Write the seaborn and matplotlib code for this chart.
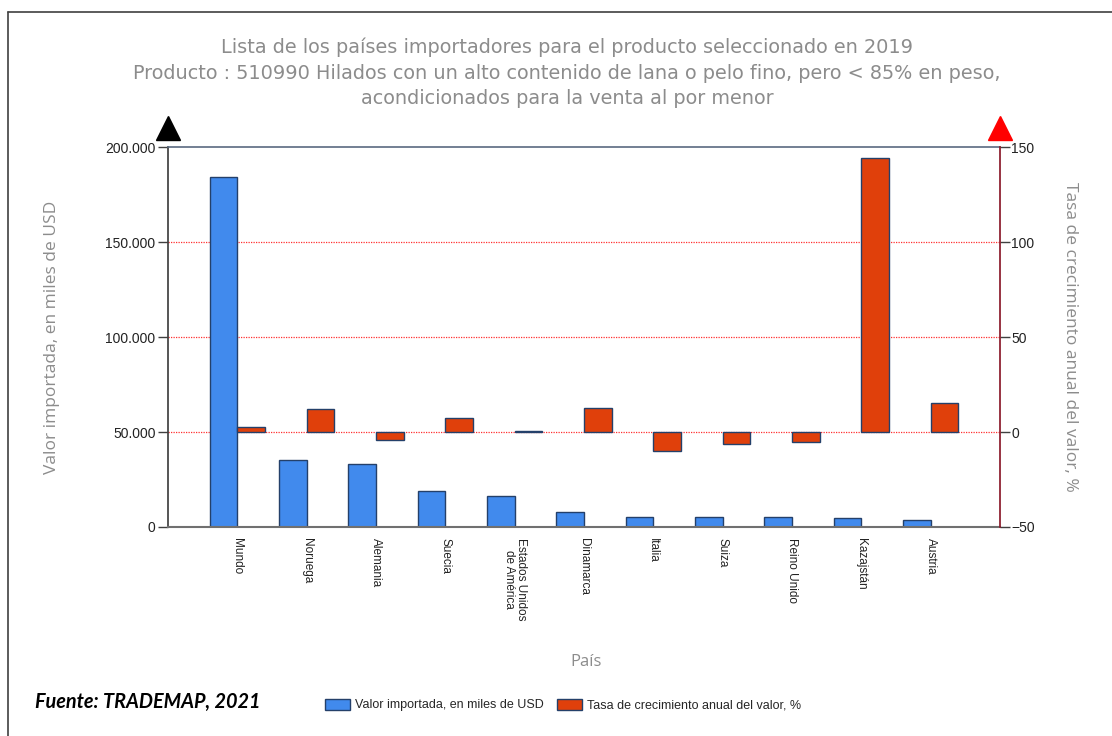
import matplotlib
matplotlib.use("Agg")
import matplotlib.pyplot as plt
import matplotlib.ticker as mticker
from matplotlib.patches import Patch
from matplotlib.lines import Line2D
import pandas as pd
import seaborn as sns

# Data
paises = ["Mundo", "Noruega", "Alemania", "Suecia", "Estados Unidos\nde América",
          "Dinamarca", "Italia", "Suiza", "Reino Unido", "Kazajstán", "Austria"]
valor_importado = [184200, 35400, 33000, 18900, 16300, 7900, 5400, 5400, 5400, 4900, 3500]
tasa_crecimiento = [2.5, 12, -4, 7.5, 0.6, 12.6, -10, -6.5, -5, 144, 15.4]

serie_valor = "Valor importada, en miles de USD"
serie_tasa = "Tasa de crecimiento anual del valor, %"
color_valor = "#418aed"
color_tasa = "#e0400b"

titulo = ("Lista de los países importadores para el producto seleccionado en 2019\n"
          "Producto : 510990 Hilados con un alto contenido de lana o pelo fino, pero < 85% en peso,\n"
          "acondicionados para la venta al por menor")

sns.set_theme(style="white")
plt.rcParams['font.family'] = ['Liberation Sans', 'DejaVu Sans']

df_valor = pd.DataFrame({"pais": paises, "valor": valor_importado, "serie": serie_valor})
df_tasa = pd.DataFrame({"pais": paises, "valor": tasa_crecimiento, "serie": serie_tasa})
hue_order = [serie_valor, serie_tasa]
palette = {serie_valor: color_valor, serie_tasa: color_tasa}

fig = plt.figure(figsize=(11.12, 7.36), dpi=100)
ax = fig.add_axes([168 / 1112, 1 - 527 / 736, 832 / 1112, 380 / 736])
ax2 = ax.twinx()

# blue bars on the left axis, red bars on the right one; hue_order keeps them side by side
sns.barplot(data=df_valor, x="pais", y="valor", hue="serie", hue_order=hue_order,
            palette=palette, order=paises, width=0.8, dodge=True, legend=False,
            saturation=1, edgecolor="#24406a", linewidth=1, ax=ax)
sns.barplot(data=df_tasa, x="pais", y="valor", hue="serie", hue_order=hue_order,
            palette=palette, order=paises, width=0.8, dodge=True, legend=False,
            saturation=1, edgecolor="#24406a", linewidth=1, ax=ax2)

ax.set_xlim(-1, 11)
ax2.set_xlim(-1, 11)
ax.set_ylim(0, 200000)
ax2.set_ylim(-50, 150)
ax.set_yticks([0, 50000, 100000, 150000, 200000])
ax2.set_yticks([-50, 0, 50, 100, 150])
ax.yaxis.set_major_formatter(mticker.FuncFormatter(lambda v, p: f"{int(v):,}".replace(",", ".")))

# red dotted gridlines
for v in [50000, 100000, 150000]:
    ax.axhline(v, color="#ff3030", lw=0.9, ls=(0, (1, 1)), zorder=0)

for a in (ax, ax2):
    a.set_xlabel("")
    a.set_ylabel("")
    a.grid(False)
    a.set_facecolor("none")
    for s in a.spines.values():
        s.set_visible(False)

ax.spines["left"].set_visible(True)
ax.spines["left"].set_color("#404040")
ax.spines["bottom"].set_visible(True)
ax.spines["bottom"].set_color("#707070")
ax.spines["bottom"].set_linewidth(1.5)
ax.spines["top"].set_visible(True)
ax.spines["top"].set_color("#5a6a80")
ax.spines["top"].set_linewidth(1.2)
ax2.spines["right"].set_visible(True)
ax2.spines["right"].set_color("#8b1a2a")

ax.tick_params(axis="y", left=True, length=7, width=1, color="#404040",
               labelsize=10, labelcolor="#222222", pad=2)
ax2.tick_params(axis="y", right=True, length=7, width=1, color="#404040",
                labelsize=10, labelcolor="#222222", pad=1)
ax.tick_params(axis="x", bottom=False, labelsize=8.5, labelcolor="#222222", pad=2)
ax2.tick_params(axis="x", bottom=False, labelbottom=False)
ax.set_xticks(range(len(paises)))
ax.set_xticklabels(paises, rotation=270, va="top", ha="center", linespacing=1.0)

# arrow heads on the two value axes
ax.plot([0], [1.05], transform=ax.transAxes, marker="^", color="black",
        markersize=17, clip_on=False)
ax2.plot([1], [1.05], transform=ax2.transAxes, marker="^", color="#ff0000",
         markersize=17, clip_on=False)

gris = "#8c8c8c"
fig.text(567 / 1112, 1 - 73 / 736, titulo, ha="center", va="center", fontsize=13.9,
         color=gris, linespacing=1.44, family=["DejaVu Sans"])
fig.text(52 / 1112, 1 - 337 / 736, serie_valor, rotation=90, ha="center", va="center",
         fontsize=12.5, color=gris, family=["Open Sans", "DejaVu Sans"])
fig.text(1070 / 1112, 1 - 337 / 736, serie_tasa, rotation=270, ha="center", va="center",
         fontsize=12.5, color=gris, family=["Open Sans", "DejaVu Sans"])
fig.text(586 / 1112, 1 - 662 / 736, "País", ha="center", va="center",
         fontsize=12, color=gris, family=["Open Sans", "DejaVu Sans"])
fig.text(35 / 1112, 1 - 702 / 736, "Fuente: TRADEMAP, 2021", ha="left", va="center",
         fontsize=14.3, fontweight="bold", fontstyle="italic", color="black",
         family=["Lato", "DejaVu Sans"])

handles = [Patch(facecolor=color_valor, edgecolor="#24406a", label=serie_valor),
           Patch(facecolor=color_tasa, edgecolor="#24406a", label=serie_tasa)]
fig.legend(handles=handles, loc="center", bbox_to_anchor=(563 / 1112, 1 - 705 / 736),
           ncol=2, frameon=False, fontsize=9, handlelength=2.0, handleheight=1.0,
           handletextpad=0.4, columnspacing=1.0)

# frame lines at the left and top of the picture
fig.add_artist(Line2D([8 / 1112, 8 / 1112], [0, 1 - 12 / 736], color="#404040", lw=1.2))
fig.add_artist(Line2D([8 / 1112, 1], [1 - 12 / 736, 1 - 12 / 736], color="#404040", lw=1.2))

fig.savefig("out.png", dpi=100)
